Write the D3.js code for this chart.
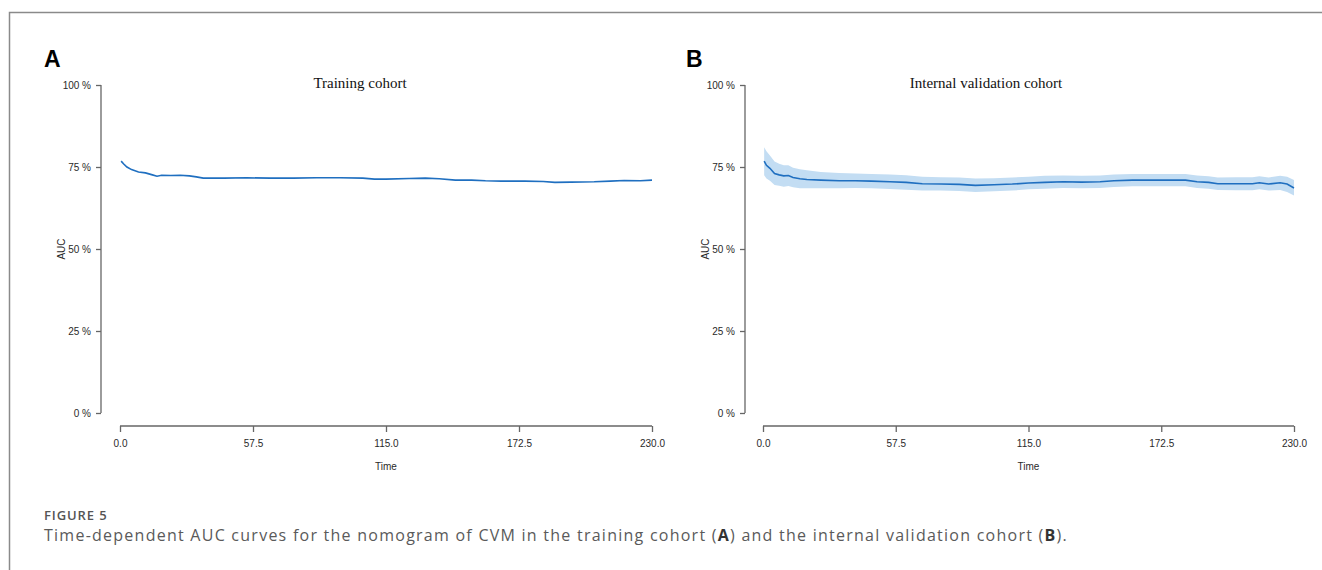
<!DOCTYPE html>
<html>
<head>
<meta charset="utf-8">
<script src="https://cdn.jsdelivr.net/npm/d3@7"></script>
<style>
    body { margin: 0; background: #fff; }
    svg text { fill: #222; }
</style>
</head>
<body>
<div id="chart"></div>
<script>

// time points and AUC (%)
let timeA = [0.5, 1.5, 3, 5, 8, 11, 14, 16, 18, 22, 26, 30, 33, 36, 45, 55, 65, 75, 85, 95, 105, 110, 115, 125, 132, 138, 145, 152, 158, 165, 175, 183, 188, 195, 205, 212, 218, 225, 230];
let aucA = [76.8, 76.0, 75.0, 74.2, 73.5, 73.2, 72.6, 72.2, 72.5, 72.4, 72.5, 72.3, 72.0, 71.6, 71.6, 71.7, 71.6, 71.6, 71.7, 71.7, 71.6, 71.3, 71.3, 71.5, 71.6, 71.4, 71.0, 71.0, 70.8, 70.7, 70.7, 70.6, 70.3, 70.4, 70.5, 70.7, 70.9, 70.8, 71.0];

// panel B: AUC (%) with confidence band
let timeB = [0.5, 1.5, 3, 5, 7, 9, 11, 13, 16, 19, 25, 33, 40, 47, 55, 62, 69, 77, 85, 92, 100, 108, 115, 122, 130, 138, 146, 152, 160, 168, 175, 183, 188, 193, 197, 205, 212, 215, 219, 224, 227, 230];
let aucB = [76.8, 75.5, 74.6, 73.0, 72.6, 72.3, 72.4, 71.8, 71.4, 71.2, 71.0, 70.8, 70.8, 70.7, 70.5, 70.3, 69.9, 69.8, 69.7, 69.4, 69.6, 69.8, 70.1, 70.3, 70.5, 70.4, 70.5, 70.8, 71.0, 71.0, 71.0, 71.0, 70.5, 70.3, 69.9, 69.9, 69.9, 70.2, 69.8, 70.2, 69.8, 68.6];
let lowB = [72.5, 71.5, 70.8, 69.5, 69.3, 69.0, 69.2, 68.8, 68.5, 68.5, 68.5, 68.5, 68.6, 68.5, 68.3, 68.1, 67.8, 67.8, 67.7, 67.4, 67.6, 67.8, 68.2, 68.4, 68.6, 68.5, 68.6, 68.9, 69.1, 69.1, 69.1, 69.1, 68.6, 68.4, 68.0, 67.9, 67.9, 68.2, 67.8, 68.0, 67.4, 66.3];
let highB = [81.0, 79.8, 78.5, 76.7, 76.0, 75.5, 75.5, 74.8, 74.3, 74.0, 73.5, 73.2, 73.0, 72.9, 72.7, 72.5, 72.0, 71.9, 71.8, 71.5, 71.6, 71.8, 72.0, 72.3, 72.4, 72.3, 72.4, 72.7, 72.9, 72.9, 72.9, 72.9, 72.4, 72.2, 71.8, 71.9, 71.9, 72.2, 71.8, 72.3, 72.0, 71.0];

let yTicks = [0, 25, 50, 75, 100];
let xTicks = [0, 57.5, 115, 172.5, 230];

let width = 1322, height = 570;

let svg = d3.select("#chart").append("svg")
    .attr("width", width)
    .attr("height", height);

// page frame (top and left rule)
svg.append("path")
    .attr("d", "M9.5,570 V12.5 H1322")
    .attr("fill", "none")
    .attr("stroke", "#8a8a8a")
    .attr("stroke-width", 1.5);

function drawPanel(opts) {
    let g = svg.append("g");

    let x = d3.scaleLinear().domain([0, 230]).range([opts.x0, opts.x1]);
    let y = d3.scaleLinear().domain([0, 100]).range([413, 85]);

    // panel letter
    g.append("text")
        .attr("x", opts.letterX)
        .attr("y", 67)
        .style("font-family", "Liberation Sans, Arial, sans-serif")
        .style("font-weight", "bold")
        .style("font-size", "23px")
        .style("fill", "#000")
        .text(opts.letter);

    // title
    g.append("text")
        .attr("x", opts.titleX)
        .attr("y", 88)
        .attr("text-anchor", "middle")
        .style("font-family", "Liberation Serif, Times New Roman, serif")
        .style("font-size", "15px")
        .style("fill", "#111")
        .text(opts.title);

    // y axis
    let yAxis = d3.axisLeft(y)
        .tickValues(yTicks)
        .tickSize(5)
        .tickPadding(5)
        .tickFormat(d => d + " %");

    let yg = g.append("g")
        .attr("transform", "translate(" + opts.yAxisX + ",0)")
        .call(yAxis);

    // x axis
    let xAxis = d3.axisBottom(x)
        .tickValues(xTicks)
        .tickSize(6)
        .tickPadding(8)
        .tickFormat(d3.format(".1f"));

    let xg = g.append("g")
        .attr("transform", "translate(0,426)")
        .call(xAxis);

    [yg, xg].forEach(a => {
        a.select(".domain").attr("stroke", "#666").attr("stroke-width", 1.3);
        a.selectAll(".tick line").attr("stroke", "#666").attr("stroke-width", 1.3);
        a.selectAll(".tick text")
            .style("font-family", "Liberation Sans, Arial, sans-serif")
            .style("font-size", "10px")
            .style("fill", "#2a2a2a");
    });
    // R style axis: no outer ticks
    yg.select(".domain").attr("d", "M0," + y(100) + "V" + y(0));
    xg.select(".domain").attr("d", "M" + x(0) + ",0H" + x(230));

    // axis labels
    g.append("text")
        .attr("transform", "translate(" + (opts.yAxisX - 36) + "," + y(50) + ") rotate(-90)")
        .attr("text-anchor", "middle")
        .style("font-family", "Liberation Sans, Arial, sans-serif")
        .style("font-size", "10px")
        .style("fill", "#2a2a2a")
        .text("AUC");

    g.append("text")
        .attr("x", x(115))
        .attr("y", 470)
        .attr("text-anchor", "middle")
        .style("font-family", "Liberation Sans, Arial, sans-serif")
        .style("font-size", "10px")
        .style("fill", "#2a2a2a")
        .text("Time");

    // confidence band
    if (opts.low) {
        let band = d3.area()
            .x((d, i) => x(opts.time[i]))
            .y0((d, i) => y(opts.low[i]))
            .y1((d, i) => y(opts.high[i]));
        g.append("path")
            .datum(opts.time)
            .attr("d", band)
            .attr("fill", "#c3ddf3");
    }

    // AUC curve
    let line = d3.line()
        .x((d, i) => x(opts.time[i]))
        .y(d => y(d))
        .curve(d3.curveLinear);

    g.append("path")
        .datum(opts.auc)
        .attr("d", line)
        .attr("fill", "none")
        .attr("stroke", "#1f6fc0")
        .attr("stroke-width", 1.6);
}

drawPanel({letter: "A", letterX: 44, title: "Training cohort", titleX: 360,
    x0: 120, x1: 652, yAxisX: 101, time: timeA, auc: aucA});

drawPanel({letter: "B", letterX: 686, title: "Internal validation cohort", titleX: 986,
    x0: 763, x1: 1294, yAxisX: 745, time: timeB, auc: aucB, low: lowB, high: highB});

// caption
svg.append("text")
    .attr("x", 44)
    .attr("y", 520)
    .style("font-family", "Open Sans, sans-serif")
    .style("font-weight", "600")
    .style("font-size", "13px")
    .style("letter-spacing", "0.9px")
    .style("fill", "#555")
    .text("FIGURE 5");

let cap = svg.append("text")
    .attr("x", 44)
    .attr("y", 541)
    .style("font-family", "Open Sans, sans-serif")
    .style("font-size", "16px")
    .style("letter-spacing", "1.25px")
    .style("fill", "#5a5a5a");

cap.append("tspan").text("Time-dependent AUC curves for the nomogram of CVM in the training cohort (");
cap.append("tspan").style("font-weight", "bold").style("fill", "#333").text("A");
cap.append("tspan").text(") and the internal validation cohort (");
cap.append("tspan").style("font-weight", "bold").style("fill", "#333").text("B");
cap.append("tspan").text(").");

</script>
</body>
</html>
